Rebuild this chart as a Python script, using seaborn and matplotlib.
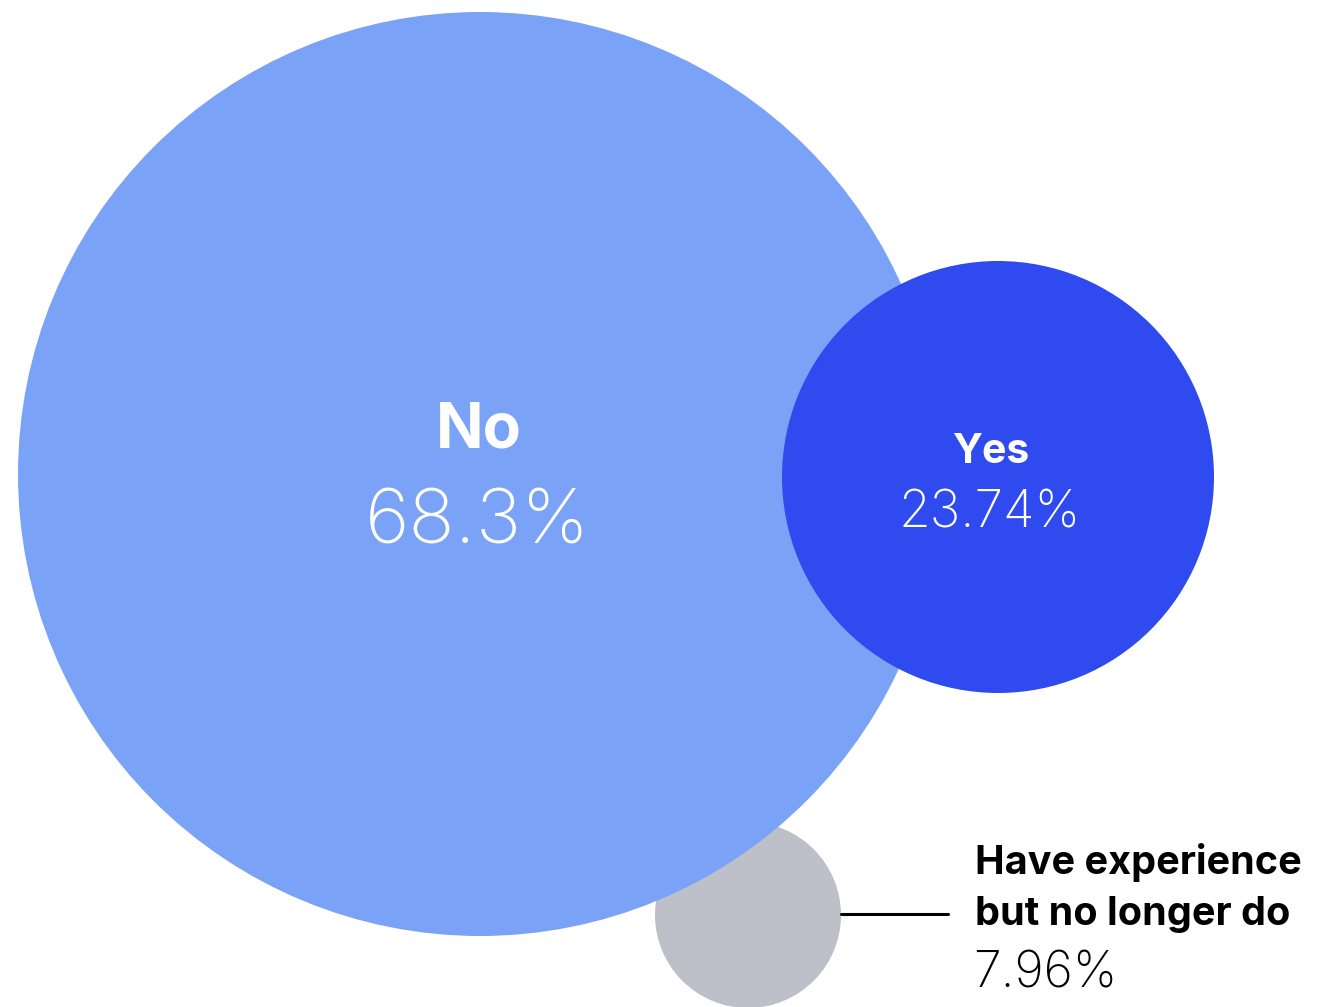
import matplotlib
matplotlib.use("Agg")
import matplotlib.pyplot as plt
import seaborn as sns
import pandas as pd

# ---- data ----
labels = ["Have experience but no longer do", "No", "Yes"]
shares = [7.96, 68.3, 23.74]
value_text = ["7.96%", "68.3%", "23.74%"]
colors = ["#BDC0C8", "#7AA2F7", "#2F4AEE"]

# ---- layout (pixels) ----
W, H, DPI = 1318, 1007, 100
cx = [748, 480, 998]
cy = [915, 474, 477]
radius_px = [93, 462, 216]

sns.set_theme(style="white")
plt.rcParams['font.family'] = ['Inter', 'DejaVu Sans']

fig = plt.figure(figsize=(W / DPI, H / DPI), dpi=DPI)
ax = fig.add_axes([0, 0, 1, 1])

df = pd.DataFrame({"label": labels, "share": shares, "x": cx, "y": cy,
                   "r": radius_px})
size_map = {l: (2 * r * 72 / DPI) ** 2 for l, r in zip(labels, radius_px)}
sns.scatterplot(data=df, x="x", y="y", hue="label", size="label",
                palette=dict(zip(labels, colors)), sizes=size_map,
                linewidth=0, legend=False, ax=ax, alpha=1)

ax.set_xlim(0, W)
ax.set_ylim(H, 0)
ax.set_aspect("equal")
ax.axis("off")

# labels inside circles
ax.text(479, 448, "No", color="white", fontsize=45, fontweight="bold",
        ha="center", va="baseline")
ax.text(478, 543, value_text[1], color="white", fontsize=55, fontweight="light",
        ha="center", va="baseline")
ax.text(991, 463, "Yes", color="white", fontsize=29.5, fontweight="bold",
        ha="center", va="baseline")
ax.text(990, 528, value_text[2], color="white", fontsize=37, fontweight="light",
        ha="center", va="baseline")

# callout for small circle
ax.plot([cx[0] + radius_px[0], 948], [914, 914], color="black", lw=2.2)
ax.text(975, 874, "Have experience", color="black", fontsize=28.5, fontweight="bold",
        ha="left", va="baseline")
ax.text(975, 925, "but no longer do", color="black", fontsize=28.5, fontweight="bold",
        ha="left", va="baseline")
ax.text(973, 988, value_text[0], color="black", fontsize=36, fontweight="light",
        ha="left", va="baseline")

fig.savefig("out.png", dpi=DPI, facecolor="white")
